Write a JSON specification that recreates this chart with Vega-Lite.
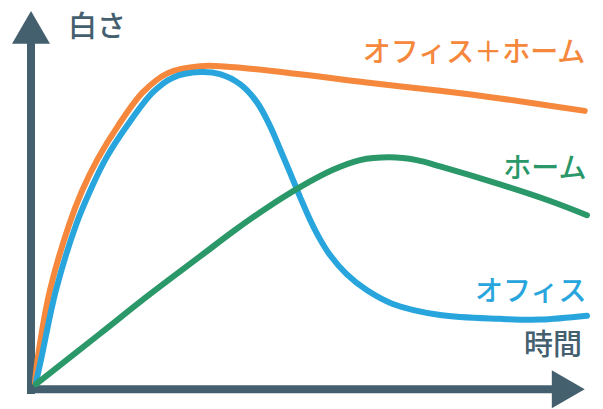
{
  "$schema": "https://vega.github.io/schema/vega-lite/v6.json",
  "width": 603,
  "height": 409,
  "autosize": {"type": "fit", "contains": "padding"},
  "padding": 0,
  "background": "white",
  "config": {"view": {"stroke": null}},
  "datasets": {
    "curves": [
      {"s": "オフィス＋ホーム", "t": 0.55, "w": 1.7},
      {"s": "オフィス＋ホーム", "t": 1.09, "w": 9.14},
      {"s": "オフィス＋ホーム", "t": 3.27, "w": 28.3},
      {"s": "オフィス＋ホーム", "t": 6.73, "w": 47.1},
      {"s": "オフィス＋ホーム", "t": 9.09, "w": 56.9},
      {"s": "オフィス＋ホーム", "t": 12.0, "w": 66.3},
      {"s": "オフィス＋ホーム", "t": 15.64, "w": 75.7},
      {"s": "オフィス＋ホーム", "t": 20.18, "w": 85.4},
      {"s": "オフィス＋ホーム", "t": 24.7, "w": 90.9},
      {"s": "オフィス＋ホーム", "t": 30.55, "w": 92.9},
      {"s": "オフィス＋ホーム", "t": 36.0, "w": 92.7},
      {"s": "オフィス＋ホーム", "t": 48.73, "w": 90.6},
      {"s": "オフィス＋ホーム", "t": 60.85, "w": 88.2},
      {"s": "オフィス＋ホーム", "t": 74.2, "w": 85.8},
      {"s": "オフィス＋ホーム", "t": 85.1, "w": 83.6},
      {"s": "オフィス＋ホーム", "t": 100.5, "w": 80.0},
      {"s": "オフィス", "t": 0.73, "w": 1.7},
      {"s": "オフィス", "t": 1.76, "w": 9.14},
      {"s": "オフィス", "t": 4.36, "w": 28.3},
      {"s": "オフィス", "t": 8.0, "w": 47.1},
      {"s": "オフィス", "t": 10.55, "w": 56.9},
      {"s": "オフィス", "t": 13.45, "w": 66.3},
      {"s": "オフィス", "t": 17.27, "w": 75.7},
      {"s": "オフィス", "t": 22.0, "w": 85.4},
      {"s": "オフィス", "t": 25.6, "w": 89.6},
      {"s": "オフィス", "t": 30.55, "w": 91.2},
      {"s": "オフィス", "t": 34.18, "w": 90.6},
      {"s": "オフィス", "t": 37.82, "w": 87.7},
      {"s": "オフィス", "t": 40.85, "w": 82.6},
      {"s": "オフィス", "t": 43.27, "w": 75.7},
      {"s": "オフィス", "t": 45.09, "w": 69.0},
      {"s": "オフィス", "t": 46.91, "w": 62.2},
      {"s": "オフィス", "t": 48.73, "w": 55.2},
      {"s": "オフィス", "t": 50.55, "w": 48.6},
      {"s": "オフィス", "t": 52.36, "w": 43.0},
      {"s": "オフィス", "t": 54.18, "w": 38.4},
      {"s": "オフィス", "t": 57.2, "w": 32.9},
      {"s": "オフィス", "t": 60.85, "w": 28.3},
      {"s": "オフィス", "t": 65.6, "w": 24.3},
      {"s": "オフィス", "t": 74.2, "w": 21.1},
      {"s": "オフィス", "t": 85.1, "w": 20.0},
      {"s": "オフィス", "t": 92.4, "w": 19.8},
      {"s": "オフィス", "t": 100.9, "w": 20.9},
      {"s": "ホーム", "t": 0.73, "w": 1.14},
      {"s": "ホーム", "t": 12.36, "w": 15.7},
      {"s": "ホーム", "t": 21.45, "w": 27.1},
      {"s": "ホーム", "t": 30.55, "w": 38.0},
      {"s": "ホーム", "t": 36.55, "w": 45.2},
      {"s": "ホーム", "t": 42.67, "w": 52.0},
      {"s": "ホーム", "t": 48.73, "w": 58.0},
      {"s": "ホーム", "t": 54.73, "w": 63.0},
      {"s": "ホーム", "t": 59.64, "w": 65.8},
      {"s": "ホーム", "t": 65.09, "w": 66.6},
      {"s": "ホーム", "t": 69.95, "w": 65.8},
      {"s": "ホーム", "t": 74.2, "w": 64.0},
      {"s": "ホーム", "t": 85.1, "w": 58.8},
      {"s": "ホーム", "t": 94.2, "w": 54.0},
      {"s": "ホーム", "t": 100.9, "w": 49.9}
    ],
    "labels": [
      {"s": "オフィス＋ホーム", "t": 100.6, "w": 96.3},
      {"s": "ホーム", "t": 100.8, "w": 62.9},
      {"s": "オフィス", "t": 100.8, "w": 27.4}
    ],
    "axes": [
      {"x1": -0.18, "y1": -1.7, "x2": -0.18, "y2": 100.6},
      {"x1": -0.9, "y1": -0.29, "x2": 96.0, "y2": -0.29}
    ],
    "arrows": [
      {"dir": "up", "t": -0.18, "w": 104.1},
      {"dir": "right", "t": 97.5, "w": -0.29}
    ],
    "ytitle": [{"label": "白さ", "t": 6.55, "w": 104.0}],
    "xtitle": [{"label": "時間", "t": 100.0, "w": 12.3}]
  },
  "layer": [
    {
      "data": {"name": "axes"},
      "mark": {"type": "rule", "color": "#44606f", "strokeWidth": 8, "strokeCap": "butt"},
      "encoding": {
        "x": {"field": "x1", "type": "quantitative", "scale": {"domain": [-5.818, 103.818], "nice": false, "zero": false}, "axis": null},
        "y": {"field": "y1", "type": "quantitative", "scale": {"domain": [-4.857, 112], "nice": false, "zero": false}, "axis": null},
        "x2": {"field": "x2"},
        "y2": {"field": "y2"}
      }
    },
    {
      "data": {"name": "arrows"},
      "mark": {"type": "point", "filled": true, "opacity": 1, "size": 1444, "color": "#44606f", "strokeWidth": 0},
      "encoding": {
        "x": {"field": "t", "type": "quantitative"},
        "y": {"field": "w", "type": "quantitative"},
        "shape": {"field": "dir", "type": "nominal", "scale": {"domain": ["up", "right"], "range": ["triangle-up", "triangle-right"]}, "legend": null}
      }
    },
    {
      "data": {"name": "curves"},
      "mark": {"type": "line", "interpolate": "catmull-rom", "strokeWidth": 6, "strokeCap": "round", "strokeJoin": "round"},
      "encoding": {
        "x": {"field": "t", "type": "quantitative"},
        "y": {"field": "w", "type": "quantitative"},
        "color": {"field": "s", "type": "nominal", "scale": {"domain": ["オフィス＋ホーム", "ホーム", "オフィス"], "range": ["#f5883c", "#2a9868", "#27a5dc"]}, "legend": null},
        "order": {"field": "t", "type": "quantitative"}
      }
    },
    {
      "data": {"name": "labels"},
      "mark": {"type": "text", "align": "right", "baseline": "middle", "font": "Noto Sans CJK JP", "fontSize": 28, "fontWeight": 500},
      "encoding": {
        "x": {"field": "t", "type": "quantitative"},
        "y": {"field": "w", "type": "quantitative"},
        "text": {"field": "s"},
        "color": {"field": "s", "type": "nominal", "legend": null}
      }
    },
    {
      "data": {"name": "ytitle"},
      "mark": {"type": "text", "align": "left", "baseline": "middle", "font": "Noto Sans CJK JP", "fontSize": 29, "fontWeight": 500, "color": "#44606f"},
      "encoding": {
        "x": {"field": "t", "type": "quantitative"},
        "y": {"field": "w", "type": "quantitative"},
        "text": {"field": "label"}
      }
    },
    {
      "data": {"name": "xtitle"},
      "mark": {"type": "text", "align": "right", "baseline": "middle", "font": "Noto Sans CJK JP", "fontSize": 29, "fontWeight": 500, "color": "#44606f"},
      "encoding": {
        "x": {"field": "t", "type": "quantitative"},
        "y": {"field": "w", "type": "quantitative"},
        "text": {"field": "label"}
      }
    }
  ]
}
